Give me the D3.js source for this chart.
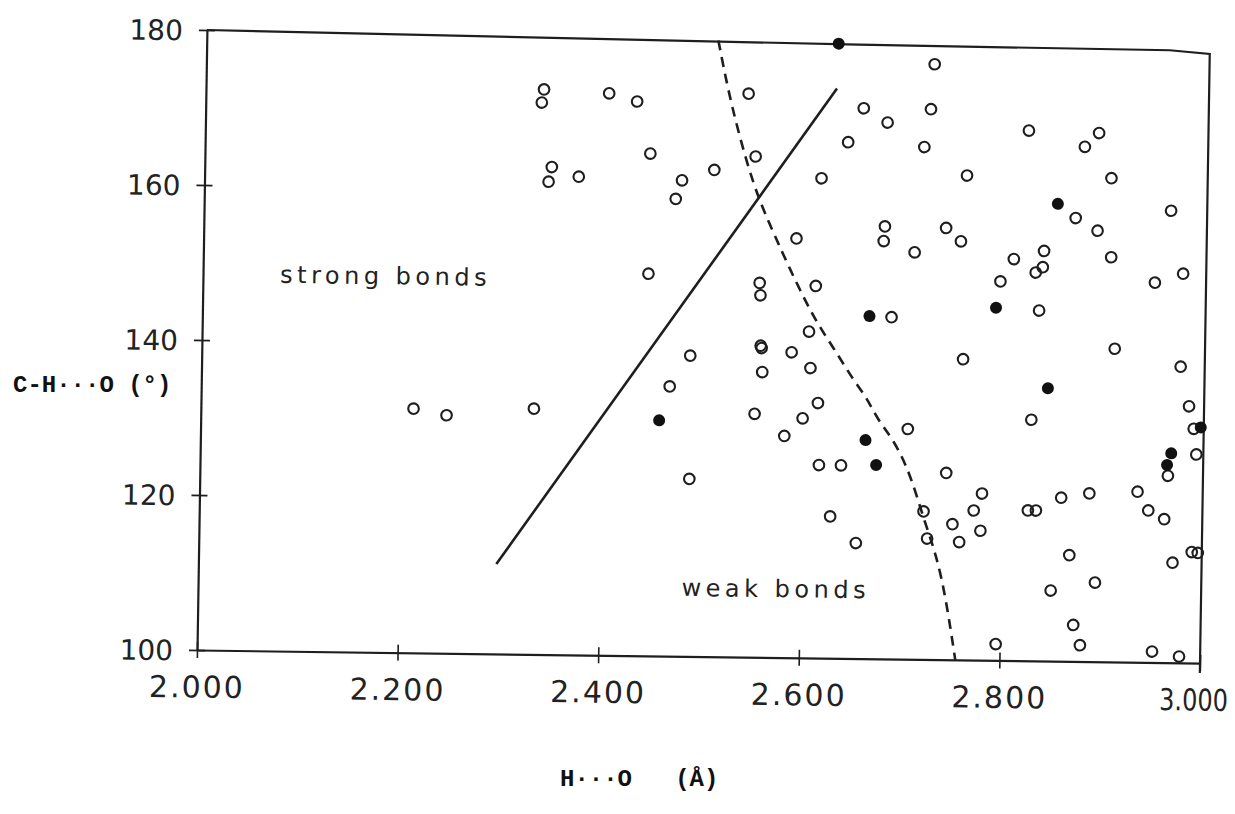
<!DOCTYPE html>
<html>
<head>
<meta charset="utf-8">
<script src="https://cdn.jsdelivr.net/npm/d3@7"></script>
<style>
  html, body { margin: 0; padding: 0; background: #fff; }
  svg { display: block; }
</style>
</head>
<body>
<svg id="chart" width="1235" height="814"></svg>
<script>
// Axis ticks
const xTicks = [2.0, 2.2, 2.4, 2.6, 2.8, 3.0];
const yTicks = [100, 120, 140, 160, 180];

// Open circles: H...O distance (Å) and C-H...O angle (°)
const openDist = [
  2.337, 2.335, 2.402, 2.430, 2.541, 2.656, 2.641, 2.444, 2.549, 2.346,
  2.343, 2.373, 2.476, 2.470, 2.508, 2.615, 2.591, 2.444, 2.555, 2.556,
  2.611, 2.726, 2.723, 2.680, 2.717, 2.760, 2.821, 2.877, 2.891, 2.904,
  2.869, 2.891, 2.905, 2.964, 2.679, 2.678, 2.709, 2.740, 2.755, 2.808,
  2.838, 2.837, 2.830, 2.795, 2.834, 2.949, 2.977, 2.687, 2.212, 2.245,
  2.332, 2.605, 2.487, 2.467, 2.557, 2.558, 2.588, 2.559, 2.607, 2.552,
  2.600, 2.615, 2.582, 2.617, 2.639, 2.488, 2.629, 2.655, 2.910, 2.976,
  2.759, 2.985, 2.828, 2.705, 2.990, 2.993, 2.965, 2.744, 2.780, 2.772,
  2.751, 2.758, 2.779, 2.722, 2.726, 2.826, 2.834, 2.859, 2.887, 2.935,
  2.946, 2.962, 2.868, 2.894, 2.850, 2.990, 2.996, 2.971, 2.873, 2.880,
  2.796, 2.952, 2.979
];
const openAngle = [
  172.9, 171.2, 172.5, 171.5, 172.7, 171.0, 166.6, 164.8, 164.6, 162.9,
  161.0, 161.7, 161.4, 159.0, 162.8, 161.9, 154.1, 149.3, 148.3, 146.7,
  148.0, 176.8, 171.0, 169.2, 166.1, 162.5, 168.4, 166.4, 168.2, 162.4,
  157.2, 155.6, 152.2, 158.3, 155.8, 153.9, 152.5, 155.7, 154.0, 151.8,
  152.9, 150.8, 150.1, 148.9, 145.2, 149.0, 150.2, 144.1, 131.5, 130.7,
  131.7, 142.1, 138.8, 134.8, 140.2, 139.9, 139.4, 136.8, 137.4, 131.4,
  130.9, 132.9, 128.6, 124.9, 124.9, 122.9, 118.3, 114.9, 140.4, 138.2,
  138.8, 133.1, 131.1, 129.7, 130.2, 126.9, 124.1, 124.1, 121.5, 119.3,
  117.5, 115.2, 116.7, 119.1, 115.6, 119.4, 119.4, 121.1, 121.7, 122.0,
  119.6, 118.5, 113.7, 110.2, 109.1, 114.3, 114.2, 112.9, 104.7, 102.1,
  102.1, 101.4, 100.8
];

// Filled circles
const filledDist  = [2.630, 2.665, 2.851, 2.791, 2.457, 2.663, 2.674, 2.844, 2.997, 2.968, 2.964];
const filledAngle = [179.3, 144.2, 159.0, 145.5, 130.4, 128.2, 125.0, 135.2, 130.4, 127.0, 125.5];

// Solid dividing line
const solidDist  = [2.297, 2.629];
const solidAngle = [111.6, 173.5];

// Dashed dividing curve
const dashedDist  = [2.510, 2.523, 2.547, 2.568, 2.582, 2.609, 2.629, 2.650, 2.664, 2.675, 2.691, 2.708, 2.722, 2.736, 2.746, 2.756];
const dashedAngle = [179.5, 171.5, 160.7, 154.8, 150.9, 143.9, 140.2, 135.9, 133.6, 130.8, 128.3, 124.0, 118.2, 113.3, 107.7, 100.0];

// Upper frame edge
const topEdgeDist  = [2.0, 2.65, 2.96, 3.0];
const topEdgeAngle = [180, 179.2, 179.0, 178.6];

const svg = d3.select("#chart");
svg.append("rect").attr("width", 1235).attr("height", 814).attr("fill", "#fff");

const x = d3.scaleLinear().domain([2, 3]).range([197, 1200]);
const y = d3.scaleLinear().domain([100, 180]).range([650, 30]);

const ink = "#1e1e1e";

// Plot panel, drawn slightly sheared like the printed figure
const g = svg.append("g")
  .attr("transform", "matrix(1,0.013,-0.016,1,10.4,-2.56)");

// Bottom axis
const xAxis = g.append("g")
  .attr("transform", `translate(0,${y(100)})`)
  .call(d3.axisBottom(x).tickValues(xTicks).tickFormat(d3.format(".3f"))
        .tickSizeInner(8).tickSizeOuter(0));
xAxis.selectAll(".tick line").attr("y1", -8).attr("y2", 8)
  .attr("stroke", ink).attr("stroke-width", 1.6);
xAxis.selectAll(".tick text")
  .attr("y", 47.5).attr("dy", null)
  .attr("fill", "#222")
  .style("font-family", "'DejaVu Sans', sans-serif")
  .style("font-size", "30px")
  .style("letter-spacing", "2px");
// The last label is narrowed so it stays on the page
xAxis.selectAll(".tick text").filter(d => d === 3)
  .attr("x", 0)
  .attr("text-anchor", "end")
  .style("letter-spacing", "0px")
  .attr("transform", "translate(28,0) scale(0.8,1)");
xAxis.select(".domain").attr("stroke", ink).attr("stroke-width", 2.2);

// Left axis
const yAxis = g.append("g")
  .attr("transform", `translate(${x(2)},0)`)
  .call(d3.axisLeft(y).tickValues(yTicks).tickFormat(d3.format("d"))
        .tickSizeInner(8).tickSizeOuter(0));
yAxis.selectAll(".tick line").attr("x1", -8).attr("x2", 8)
  .attr("stroke", ink).attr("stroke-width", 1.6);
yAxis.selectAll(".tick text")
  .attr("x", -24).attr("dy", "0.36em")
  .attr("fill", "#222")
  .style("font-family", "'DejaVu Sans', sans-serif")
  .style("font-size", "28px");
yAxis.select(".domain").attr("stroke", ink).attr("stroke-width", 2.2);

// Top and right frame edges
const edge = d3.line().x(d => x(d[0])).y(d => y(d[1]));
const topPts = topEdgeDist.map((d, i) => [d, topEdgeAngle[i]]);
g.append("path")
  .attr("d", edge(topPts) + `L${x(3)},${y(100) + 10}`)
  .attr("fill", "none").attr("stroke", ink).attr("stroke-width", 2.2);

// Solid line
g.append("path")
  .attr("d", edge(solidDist.map((d, i) => [d, solidAngle[i]])))
  .attr("fill", "none").attr("stroke", ink).attr("stroke-width", 2.6);

// Dashed curve
g.append("path")
  .attr("d", d3.line().x(d => x(d[0])).y(d => y(d[1])).curve(d3.curveBasis)(
    dashedDist.map((d, i) => [d, dashedAngle[i]])))
  .attr("fill", "none").attr("stroke", ink).attr("stroke-width", 2.6)
  .attr("stroke-dasharray", "10,7");

// Open markers
g.append("g").selectAll("circle")
  .data(openDist.map((d, i) => [d, openAngle[i]]))
  .join("circle")
  .attr("cx", d => x(d[0])).attr("cy", d => y(d[1]))
  .attr("r", 5.3).attr("fill", "none")
  .attr("stroke", ink).attr("stroke-width", 2.1);

// Filled markers
g.append("g").selectAll("circle")
  .data(filledDist.map((d, i) => [d, filledAngle[i]]))
  .join("circle")
  .attr("cx", d => x(d[0])).attr("cy", d => y(d[1]))
  .attr("r", 6).attr("fill", "#111");

// Region labels
const regionFont = "'DejaVu Sans', sans-serif";
g.append("text")
  .attr("x", x(2.077)).attr("y", y(147.5))
  .attr("fill", "#222")
  .style("font-family", regionFont).style("font-size", "24px")
  .style("letter-spacing", "4.5px")
  .text("strong bonds");
g.append("text")
  .attr("x", x(2.482)).attr("y", y(107.8))
  .attr("fill", "#222")
  .style("font-family", regionFont).style("font-size", "24px")
  .style("letter-spacing", "4.5px")
  .text("weak bonds");

// Axis titles
svg.append("text")
  .attr("x", 13).attr("y", 392)
  .attr("fill", "#111")
  .style("font-family", "'Liberation Mono', monospace")
  .style("font-weight", "bold").style("font-size", "24px")
  .style("white-space", "pre")
  .text("C-H\u00B7\u00B7\u00B7O (\u00B0)");
svg.append("text")
  .attr("x", 560).attr("y", 786)
  .attr("fill", "#111")
  .style("font-family", "'Liberation Mono', monospace")
  .style("font-weight", "bold").style("font-size", "24px")
  .style("white-space", "pre")
  .text("H\u00B7\u00B7\u00B7O   (\u00C5)");
</script>
</body>
</html>
